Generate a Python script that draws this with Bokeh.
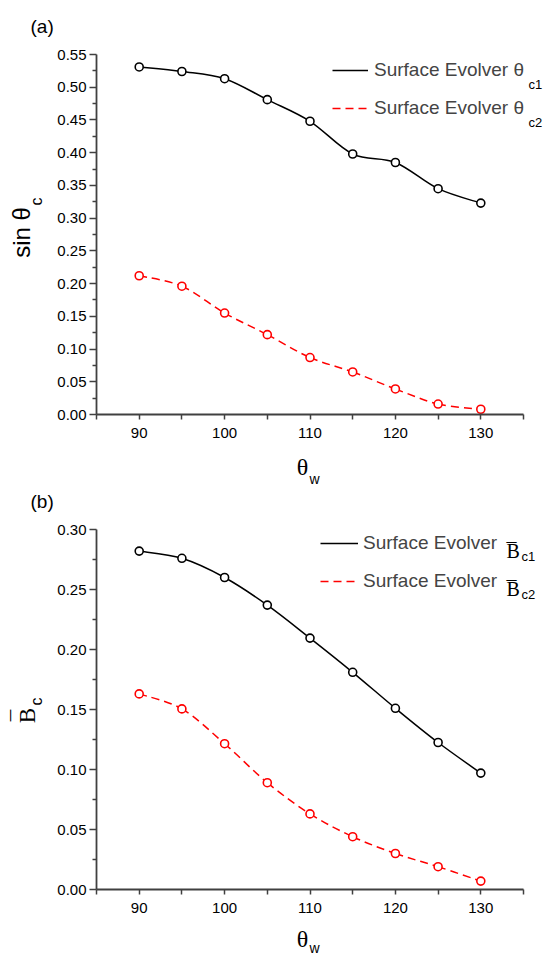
import math
from bokeh.plotting import figure
from bokeh.models import (Range1d, FixedTicker, Label, Legend, LegendItem,
                          ColumnDataSource, NumeralTickFormatter)
from bokeh.layouts import column
from bokeh.embed import file_html
from bokeh.resources import INLINE

# ---------------- data ----------------
theta_w = [90, 95, 100, 105, 110, 115, 120, 125, 130]
sin_c1 = [0.531, 0.524, 0.513, 0.481, 0.448, 0.398, 0.385, 0.345, 0.323]
sin_c2 = [0.212, 0.196, 0.155, 0.122, 0.087, 0.065, 0.039, 0.016, 0.008]
B_c1 = [0.282, 0.276, 0.260, 0.237, 0.2095, 0.181, 0.151, 0.1225, 0.097]
B_c2 = [0.163, 0.1505, 0.1215, 0.089, 0.063, 0.044, 0.030, 0.019, 0.007]

x_bounds = (85, 135)
x_ticks = [90, 100, 110, 120, 130]
x_minor = [85, 95, 105, 115, 125, 135]
ya_ticks = [0.00, 0.05, 0.10, 0.15, 0.20, 0.25, 0.30, 0.35, 0.40, 0.45, 0.50, 0.55]
ya_minor = [0.025, 0.075, 0.125, 0.175, 0.225, 0.275, 0.325, 0.375, 0.425, 0.475, 0.525]
yb_ticks = [0.00, 0.05, 0.10, 0.15, 0.20, 0.25, 0.30]
yb_minor = [0.025, 0.075, 0.125, 0.175, 0.225, 0.275]

# ---------------- layout (pixels) ----------------
W = 545
AXL, AXR = 96, 523          # pixel columns of x = 85 and x = 135
AX = "#404040"
SANS = "Liberation Sans"
SERIF = "Liberation Serif"


def bezier_source(xs, ys):
    """Catmull-Rom style cubic segments through the data points."""
    n = len(xs)
    d = dict(x0=[], y0=[], x1=[], y1=[], cx0=[], cy0=[], cx1=[], cy1=[])
    for i in range(n - 1):
        a = max(i - 1, 0)
        b = min(i + 2, n - 1)
        d["x0"].append(xs[i]); d["y0"].append(ys[i])
        d["x1"].append(xs[i + 1]); d["y1"].append(ys[i + 1])
        d["cx0"].append(xs[i] + (xs[i + 1] - xs[a]) / 6)
        d["cy0"].append(ys[i] + (ys[i + 1] - ys[a]) / 6)
        d["cx1"].append(xs[i + 1] - (xs[b] - xs[i]) / 6)
        d["cy1"].append(ys[i + 1] - (ys[b] - ys[i]) / 6)
    return ColumnDataSource(d)


def make_panel(H, ytop_px, y0_px, yticks, yminor):
    ymax = yticks[-1]
    xs = (x_bounds[1] - x_bounds[0]) / (AXR - AXL)
    ys = ymax / (y0_px - ytop_px)
    xr = Range1d(x_bounds[0] - AXL * xs, x_bounds[1] + (W - AXR) * xs)
    yr = Range1d(-(H - y0_px) * ys, ymax + ytop_px * ys)
    p = figure(width=W, height=H, output_backend="svg", toolbar_location=None,
               x_range=xr, y_range=yr, min_border=0,
               min_border_left=0, min_border_right=0,
               min_border_top=0, min_border_bottom=0)
    p.outline_line_color = None
    p.grid.visible = False
    p.background_fill_color = "white"
    p.border_fill_color = "white"
    p.xaxis.fixed_location = 0
    p.yaxis.fixed_location = x_bounds[0]
    p.xaxis.bounds = x_bounds
    p.yaxis.bounds = (0, ymax)
    p.xaxis.ticker = FixedTicker(ticks=x_ticks, minor_ticks=x_minor)
    p.yaxis.ticker = FixedTicker(ticks=yticks, minor_ticks=yminor)
    p.yaxis.formatter = NumeralTickFormatter(format="0.00")
    for ax in (p.xaxis, p.yaxis):
        ax.axis_line_color = AX
        ax.axis_line_width = 1.8
        ax.major_tick_line_color = AX
        ax.minor_tick_line_color = AX
        ax.major_tick_line_width = 1.5
        ax.minor_tick_line_width = 1.5
        ax.major_tick_in = 0
        ax.minor_tick_in = 0
        ax.major_label_text_font = SANS
        ax.major_label_text_font_size = "15px"
        ax.major_label_text_color = "black"
    p.yaxis.major_tick_out = 7
    p.yaxis.minor_tick_out = 4
    p.yaxis.major_label_standoff = 3
    p.xaxis.major_tick_out = 5
    p.xaxis.minor_tick_out = 5
    p.xaxis.major_label_standoff = 8
    return p


def add_series(p, ys1, ys2):
    s1 = bezier_source(theta_w, ys1)
    s2 = bezier_source(theta_w, ys2)
    r1 = p.bezier(x0="x0", y0="y0", x1="x1", y1="y1", cx0="cx0", cy0="cy0",
                  cx1="cx1", cy1="cy1", source=s1, line_color="black", line_width=1.5)
    r2 = p.bezier(x0="x0", y0="y0", x1="x1", y1="y1", cx0="cx0", cy0="cy0",
                  cx1="cx1", cy1="cy1", source=s2, line_color="#ff0000", line_width=1.5,
                  line_dash="8 5")
    p.scatter(theta_w, ys1, marker="circle", size=8, line_color="black",
              fill_color="white", line_width=1.6)
    p.scatter(theta_w, ys2, marker="circle", size=8, line_color="#ff0000",
              fill_color="white", line_width=1.6)
    return r1, r2


def lab(p, H, x, y, text, font=SANS, size="19px", angle=0.0, align="left",
        baseline="alphabetic"):
    # x, y: pixel position from the top-left corner of this figure
    p.add_layout(Label(x=x, y=H - y, x_units="screen", y_units="screen", text=text,
                       text_font=font, text_font_size=size, angle=angle,
                       text_align=align, text_baseline=baseline, text_color="black"))


def legend(p, H, x, top, labels, renderers, gw, standoff):
    items = [LegendItem(label=t, renderers=[r]) for t, r in zip(labels, renderers)]
    lg = Legend(items=items, location=(x, H - (top + 60)), glyph_width=gw,
                glyph_height=20, label_height=20, spacing=16, padding=0, margin=0,
                border_line_color=None, background_fill_alpha=0,
                label_text_font=SANS, label_text_font_size="19px",
                label_standoff=standoff)
    p.add_layout(lg)


# ---------------- panel (a) ----------------
HA = 490
pa = make_panel(HA, 54, 414, ya_ticks, ya_minor)
ra1, ra2 = add_series(pa, sin_c1, sin_c2)
legend(pa, HA, 332, 59, ["Surface Evolver θ", "Surface Evolver θ"], [ra1, ra2], 36, 6)
lab(pa, HA, 528, 84, "c1", size="13px")
lab(pa, HA, 528, 122, "c2", size="13px")
lab(pa, HA, 30, 26, "(a)")
lab(pa, HA, 21, 232, "sin θ", size="24px", angle=math.pi / 2, align="center")
lab(pa, HA, 36, 201, "c", size="16px", angle=math.pi / 2, align="center")
lab(pa, HA, 302, 466, "θ", font=SERIF, size="24px", align="center")
lab(pa, HA, 309, 478, "w", size="14px")

# ---------------- panel (b) ----------------
HB = 464
pb = make_panel(HB, 39, 399, yb_ticks, yb_minor)
rb1, rb2 = add_series(pb, B_c1, B_c2)
legend(pb, HB, 320, 42, ["Surface Evolver", "Surface Evolver"], [rb1, rb2], 38, 5)
for sub, yc in [("c1", 53), ("c2", 91)]:
    lab(pb, HB, 506, yc + 7, "B", font=SERIF, size="20px")
    lab(pb, HB, 506, yc + 7, "¯", font=SERIF, size="20px")
    lab(pb, HB, 521, yc + 13, sub, size="13px")
lab(pb, HB, 30, 11, "(b)")
lab(pb, HB, 27, 225, "B", font=SERIF, size="23px", angle=math.pi / 2, align="center")
lab(pb, HB, 20, 225, "¯", font=SERIF, size="23px", angle=math.pi / 2, align="center")
lab(pb, HB, 36, 211, "c", size="16px", angle=math.pi / 2, align="center")
lab(pb, HB, 302, 448, "θ", font=SERIF, size="24px", align="center")
lab(pb, HB, 309, 457, "w", size="14px")

layout = column(pa, pb, spacing=0)
open("out.html", "w").write(file_html(layout, INLINE))
